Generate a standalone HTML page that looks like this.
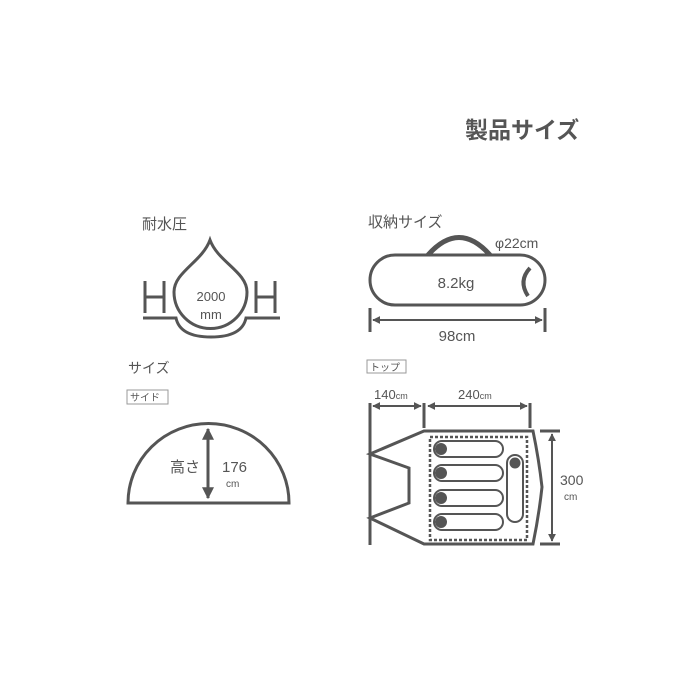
<!DOCTYPE html><html><head><meta charset="utf-8"><style>body{margin:0;background:#fff}svg{display:block}text{font-family:"Liberation Sans","Noto Sans CJK JP",sans-serif;fill:#555}</style></head><body>
<svg width="700" height="700" viewBox="0 0 700 700" xmlns="http://www.w3.org/2000/svg">
<defs><marker id="a" viewBox="0 0 10 10" refX="9" refY="5" markerWidth="4" markerHeight="4" orient="auto-start-reverse"><path d="M0,0L10,5L0,10z" fill="#555"/></marker></defs>
<text x="465" y="138" font-size="23" font-weight="bold" fill="#444">製品サイズ</text>
<g stroke="#555" fill="none" stroke-width="3">
<path d="M210,240 C218,262 247,272 247,292 A36,36 0 1 1 174,292 C174,272 202,262 210,240Z"/>
<path d="M143,318 H176 Q180,337 211,337 Q242,337 246,318 H280"/>
<path d="M145,281V313M164,281V313M145,297H164M256,281V313M275,281V313M256,297H275"/>
<path d="M428,255 Q459,220 490,255" stroke-width="5"/>
<rect x="370" y="255" width="175" height="50" rx="25"/>
<path d="M530,268 Q518,281 528,296" stroke-width="4"/>
<path d="M370,308V332M545,308V332"/>
<line x1="373" y1="320" x2="542" y2="320" stroke-width="2" marker-start="url(#a)" marker-end="url(#a)"/>
<path d="M128,503 A80,79 0 0 1 289,503 Z"/>
<line x1="208" y1="429" x2="208" y2="498" marker-start="url(#a)" marker-end="url(#a)"/>
<path d="M370,403V545M424,403V428M530,403V428"/>
<line x1="373" y1="406" x2="421" y2="406" stroke-width="2" marker-start="url(#a)" marker-end="url(#a)"/>
<line x1="428" y1="406" x2="527" y2="406" stroke-width="2" marker-start="url(#a)" marker-end="url(#a)"/>
<path d="M424,431H533Q539,460 542,487Q539,515 533,544H424L370,518L409,503V468L370,454Z"/>
<path d="M540,431H560M540,544H560"/>
<line x1="552" y1="434" x2="552" y2="541" stroke-width="2" marker-start="url(#a)" marker-end="url(#a)"/>
<rect x="430" y="437" width="97" height="103" stroke-dasharray="3,2" stroke-width="2.5"/>
<g stroke-width="2">
<path d="M442,441H495A8,8 0 0 1 495,457H442A8,8 0 0 1 442,441Z"/>
<path d="M442,465H495A8,8 0 0 1 495,481H442A8,8 0 0 1 442,465Z"/>
<path d="M442,490H495A8,8 0 0 1 495,506H442A8,8 0 0 1 442,490Z"/>
<path d="M442,514H495A8,8 0 0 1 495,530H442A8,8 0 0 1 442,514Z"/>
<path d="M507,463A8,8 0 0 1 523,463V514A8,8 0 0 1 507,514Z"/>
</g>
</g>
<g fill="#555"><circle cx="441" cy="449" r="6"/><circle cx="441" cy="473" r="6"/><circle cx="441" cy="498" r="6"/><circle cx="441" cy="522" r="6"/><circle cx="515" cy="463" r="5.5"/></g>
<text x="142" y="229" font-size="15">耐水圧</text>
<text x="211" y="301" font-size="13" text-anchor="middle">2000</text>
<text x="211" y="319" font-size="13" text-anchor="middle">mm</text>
<text x="368" y="227" font-size="15">収納サイズ</text>
<text x="495" y="248" font-size="14">φ22cm</text>
<text x="456" y="288" font-size="15" text-anchor="middle">8.2kg</text>
<text x="457" y="341" font-size="15" text-anchor="middle">98cm</text>
<text x="128" y="373" font-size="14">サイズ</text>
<rect x="127" y="390" width="41" height="14" fill="none" stroke="#999"/>
<text x="130" y="401" font-size="10">サイド</text>
<text x="170" y="472" font-size="15">高さ</text>
<text x="222" y="472" font-size="15">176</text>
<text x="226" y="487" font-size="10">cm</text>
<rect x="367" y="360" width="39" height="13" fill="none" stroke="#999"/>
<text x="370" y="371" font-size="10">トップ</text>
<text x="374" y="399" font-size="13">140<tspan font-size="9">cm</tspan></text>
<text x="458" y="399" font-size="13">240<tspan font-size="9">cm</tspan></text>
<text x="560" y="485" font-size="14">300</text>
<text x="564" y="500" font-size="10">cm</text>
</svg></body></html>
